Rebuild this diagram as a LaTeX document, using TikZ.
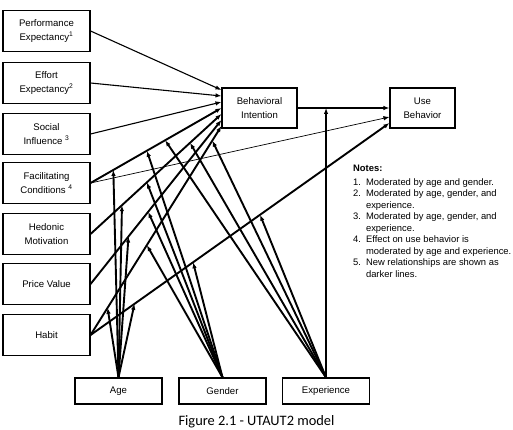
\documentclass[tikz,border=0pt]{standalone}
\usepackage{fontspec}
\setmainfont{Liberation Sans}
\newfontfamily\capfont{Carlito}
\usetikzlibrary{arrows.meta}

\begin{document}
\begin{tikzpicture}[x=1pt,y=-1pt,
    box/.style={draw,line width=1.1pt,align=center,inner sep=0pt,font=\fontsize{9.6}{13.5}\selectfont},
    cbox/.style={box,minimum width=87pt,minimum height=41pt},
    mbox/.style={box,minimum width=87pt,minimum height=26pt},
    rel/.style={line width=1.1pt,-{Latex[length=6pt,width=4.5pt]}},
    thinrel/.style={rel,line width=0.7pt},
    newrel/.style={rel,line width=1.9pt}]
  \useasboundingbox (0,0) rectangle (513,430);
  \path
    (46.5, 31) node[cbox] (pe){Performance\\Expectancy\textsuperscript{1}}
    (46.5, 83) node[cbox] (ee){Effort\\Expectancy\textsuperscript{2}}
    (46.5, 134) node[cbox] (si){Social\\Influence \textsuperscript{3}}
    (46.5, 183) node[cbox] (fc){Facilitating\\Conditions \textsuperscript{4}}
    (46.5, 234) node[cbox] (hm){Hedonic\\Motivation}
    (46.5, 284) node[cbox] (pv){Price Value}
    (46.5, 335) node[cbox] (hab){Habit}
    (259.5, 108) node[box,minimum width=75pt,minimum height=40pt] (bi){Behavioral\\Intention}
    (422.5, 108) node[box,minimum width=65pt,minimum height=40pt] (ub){Use\\Behavior}
    (118.5, 391) node[mbox] (age){Age}
    (222.5, 391) node[mbox] (gender){Gender}
    (326, 391) node[mbox] (exper){Experience};
  \node[anchor=north west,inner sep=0pt,font=\fontsize{9.4}{11.5}\selectfont] (notes) at (353,163.5)
    {\begin{tabular}{@{}l@{\hspace{5pt}}l@{}}
      \multicolumn{2}{@{}l}{\textbf{Notes:}}\\[2pt]
      1. & Moderated by age and gender.\\
      2. & Moderated by age, gender, and\\
         & experience.\\
      3. & Moderated by age, gender, and\\
         & experience.\\
      4. & Effect on use behavior is\\
         & moderated by age and experience.\\
      5. & New relationships are shown as\\
         & darker lines.
    \end{tabular}};
  \node[anchor=base,font=\capfont\fontsize{14.4}{17}\selectfont] (caption) at (256.5,425.5)
    {Figure 2.1 - UTAUT2 model};
  % constructs to intention and use
  \draw[rel] (pe.east) -- ([yshift=18pt]bi.west);
  \draw[rel] (ee.east) -- ([yshift=12pt]bi.west);
  \draw[rel] (si.east) -- ([yshift=6pt]bi.west);
  \draw[thinrel] (fc.east) -- ([yshift=-9pt]ub.west);
  \draw[newrel] (fc.east) -- coordinate[pos=.174] (fcA) coordinate[pos=.43] (fcG)
    coordinate[pos=.57] (fcE) (bi.west);
  \draw[newrel] (hm.east) -- coordinate[pos=.24] (hmA) coordinate[pos=.43] (hmG)
    coordinate[pos=.76] (hmE) ([yshift=-6pt]bi.west);
  \draw[newrel] (pv.east) -- coordinate[pos=.29] (pvA) coordinate[pos=.44] (pvG)
    ([yshift=-12pt]bi.west);
  \draw[newrel] (hab.east) -- coordinate[pos=.13] (habA) coordinate[pos=.43] (habG)
    coordinate[pos=.93] (habE) ([yshift=-18pt]bi.west);
  \draw[newrel] (hab.east) -- coordinate[pos=.147] (habuA) coordinate[pos=.343] (habuG)
    coordinate[pos=.567] (habuE) ([yshift=-15pt]ub.west);
  \draw[rel] (bi) -- coordinate[pos=.31] (biubE) (ub);
  % moderators
  \begin{scope}[newrel]
    \draw (age.north) to (fcA);
    \draw (age.north) to (hmA);
    \draw (age.north) to (pvA);
    \draw (age.north) to (habA);
    \draw (age.north) to (habuA);
    \draw (gender.north) to (fcG);
    \draw (gender.north) to (hmG);
    \draw (gender.north) to (pvG);
    \draw (gender.north) to (habG);
    \draw (gender.north) to (habuG);
    \draw (exper.north) to (fcE);
    \draw (exper.north) to (hmE);
    \draw (exper.north) to (habE);
    \draw (exper.north) to (habuE);
    \draw (exper.north) to (biubE);
  \end{scope}
\end{tikzpicture}
\end{document}
